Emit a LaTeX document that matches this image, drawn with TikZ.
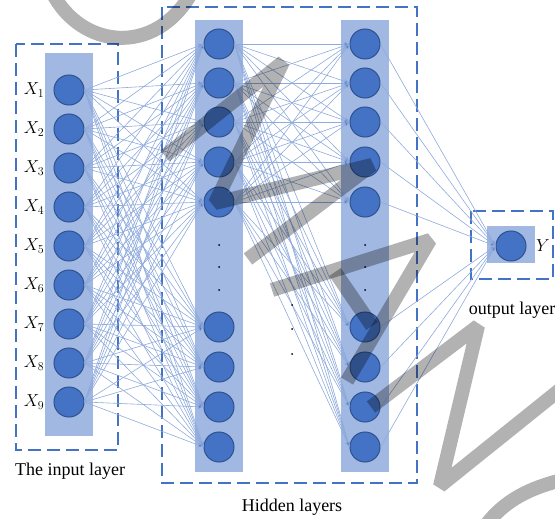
\documentclass[tikz,border=0pt]{standalone}
\usepackage{fontspec}
\setmainfont{Liberation Serif}
\usetikzlibrary{arrows.meta, positioning}
\definecolor{cnode}{HTML}{4472C4}
\definecolor{cedge}{HTML}{2F528F}
\definecolor{cband}{HTML}{A1B8E2}
\definecolor{cwire}{HTML}{8FAADC}
\tikzset{
  every picture/.style={line width=1pt},
  unit/.style={circle, draw=cedge, fill=cnode, minimum size=30pt, inner sep=0pt, line width=1pt},
  band/.style={fill=cband},
  frame/.style={draw=cnode, line width=2pt, dash pattern=on 13pt off 6pt},
  wire/.style={draw=cwire, line width=0.6pt, -{Latex[length=5pt, width=4.5pt, fill=cnode]}},
  caption/.style={font=\fontsize{18}{20}\selectfont},
}

\begin{document}
\begin{tikzpicture}[x=1pt, y=-1pt,
  var/.style={font=\fontsize{17}{19}\selectfont},
  stroke/.style={draw=black, opacity=0.3, line width=14pt, line join=miter, miter limit=1.6, line cap=butt}]
  \useasboundingbox (0,0) rectangle (555,519);
  % column bands
  \fill[band] (45,53) rectangle (93,436);
  \fill[band] (195,20) rectangle (243,472);
  \fill[band] (341,20) rectangle (389,472);
  \fill[band] (487,226) rectangle (535,263);
  % dashed layer frames
  \draw[frame] (16,44) rectangle (118,450);
  \draw[frame] (162,7) rectangle (417,483);
  \draw[frame] (471,211) rectangle (553,279);
  % input units
  \foreach \i in {1,...,9} {
    \node[unit] (in\i) at (69,{90+39*(\i-1)}) {};
    \node[var] (x\i) at (34,{90+39*(\i-1)}) {$X_{\i}$};
  }
  % hidden units, two columns
  \foreach \y [count=\j] in {44,83,122,162,202,327,367,407,447} {
    \node[unit] (ha\j) at (219,\y) {};
    \node[unit] (hb\j) at (365,\y) {};
  }
  % output unit
  \node[unit] (out) at (511,246) {};
  \node[var] (y) at (543,246) {$Y$};
  % connections
  \foreach \i in {1,...,9}
    \foreach \j in {1,...,9}
      \draw[wire] (in\i.east) -- (ha\j.west);
  \foreach \i in {1,...,5}
    \foreach \j in {1,...,9}
      \draw[wire] (ha\i.east) -- (hb\j.west);
  \foreach \j in {1,...,9}
    \draw[wire] (hb\j.east) -- (out.west);
  % ellipsis dots
  \foreach \y in {245,267,290} {
    \fill (219,\y) circle (1pt);
    \fill (365,\y) circle (1pt);
  }
  \foreach \y in {305,329,354}
    \fill (292,\y) circle (1pt);
  % layer captions
  \node[caption] (capin) at (70,471) {The input layer};
  \node[caption] (caphid) at (292,507) {Hidden layers};
  \node[caption] (capout) at (512,310) {output layer};
  % grey pen strokes
  \draw[stroke] (52,-8) .. controls (80,48) and (155,58) .. (192,-8);
  \draw[stroke] (165,156) -- (283,62) -- (215,203) -- (372,165) -- (248,259);
  \draw[stroke] (272,290) -- (430,240) -- (347,381);
  \draw[stroke] (335,272) -- (372,326);
  \draw[stroke] (371,407) -- (478,326) -- (440,486) -- (562,388);
  \draw[stroke] (486,525) .. controls (505,500) and (530,488) .. (562,480);
\end{tikzpicture}
\end{document}
